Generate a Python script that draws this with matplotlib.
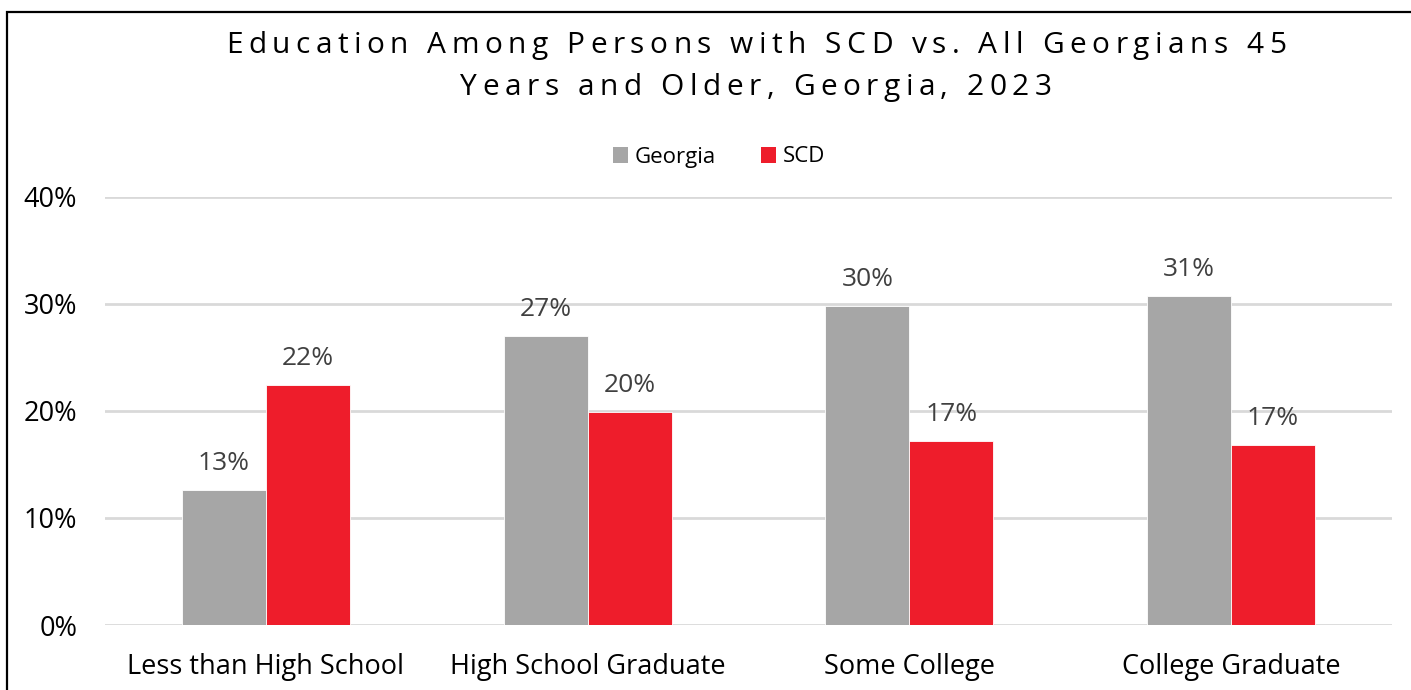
import matplotlib
matplotlib.use("Agg")
import matplotlib.pyplot as plt
from matplotlib.font_manager import FontProperties
from matplotlib.patches import Rectangle, Patch
from matplotlib.ticker import MultipleLocator, PercentFormatter
import numpy as np

# Education level categories and shares (percent of adults 45+)
categories = ["Less than High School", "High School Graduate", "Some College", "College Graduate"]
georgia = [12.6, 27.0, 29.8, 30.7]
scd = [22.4, 19.9, 17.2, 16.8]
series_names = ["Georgia", "SCD"]
title_lines = ["Education Among Persons with SCD vs. All Georgians 45",
               "Years and Older, Georgia, 2023"]

GRAY = "#a6a6a6"
RED = "#ee1d2b"
LABEL = "#404040"
GRID = "#d9d9d9"
FONT = "Open Sans"

W, H = 1411, 690
fig = plt.figure(figsize=(W / 100, H / 100), dpi=100)
ax = fig.add_axes([105 / W, 1 - 625 / H, (1392 - 105) / W, (625 - 196.5) / H])

x = np.arange(len(categories))
bw = 0.261
b1 = ax.bar(x - bw / 2, georgia, bw, color=GRAY, edgecolor="white", linewidth=0.6, zorder=3)
b2 = ax.bar(x + bw / 2, scd, bw, color=RED, edgecolor="white", linewidth=0.6, zorder=3)

for bars, vals in ((b1, georgia), (b2, scd)):
    for rect, v in zip(bars, vals):
        ax.annotate(f"{round(v):d}%", (rect.get_x() + rect.get_width() / 2, v),
                    xytext=(0, 14), textcoords="offset pixels",
                    ha="center", va="bottom", fontsize=19, color=LABEL,
                    family=FONT)

ax.set_xlim(-0.5, len(categories) - 0.5)
ax.set_ylim(0, 40)
ax.yaxis.set_major_locator(MultipleLocator(10))
ax.yaxis.set_major_formatter(PercentFormatter(decimals=0))
ax.set_xticks(x)
ax.set_xticklabels(categories)
ax.grid(axis="y", color=GRID, linewidth=2, zorder=0)
ax.set_axisbelow(True)
for s in ax.spines.values():
    s.set_visible(False)
ax.tick_params(axis="both", length=0, labelsize=19.5)
ax.tick_params(axis="y", pad=20)
ax.tick_params(axis="x", pad=20)
for lab in ax.get_xticklabels() + ax.get_yticklabels():
    lab.set_family(FONT)
    lab.set_color("black")

# Legend above the plot area
handles = [Patch(facecolor=GRAY), Patch(facecolor=RED)]
fig.legend(handles, series_names, loc="center", bbox_to_anchor=(719 / W, 1 - 157 / H),
           ncol=2, frameon=False, prop=FontProperties(family=FONT, size=16),
           handlelength=0.7, handleheight=0.7, handletextpad=0.3, columnspacing=2.0)

# Title with widened letter spacing, drawn character by character
renderer = fig.canvas.get_renderer()
tfp = FontProperties(family=FONT, size=21.5)
tracking = 5.5


def spaced_line(text, cx, baseline):
    widths = []
    for ch in text:
        if ch == " ":
            w, _, _ = renderer.get_text_width_height_descent("a a", tfp, ismath=False)
            w2, _, _ = renderer.get_text_width_height_descent("aa", tfp, ismath=False)
            widths.append(w - w2)
        else:
            w, _, _ = renderer.get_text_width_height_descent(ch, tfp, ismath=False)
            widths.append(w)
    total = sum(widths) + tracking * (len(text) - 1)
    pos = cx - total / 2
    for ch, w in zip(text, widths):
        fig.text(pos / W, 1 - baseline / H, ch, fontproperties=tfp,
                 ha="left", va="baseline", color="black")
        pos += w + tracking


spaced_line(title_lines[0], 756, 53)
spaced_line(title_lines[1], 756, 95)

# Outer chart frame
fig.patches.append(Rectangle((7 / W, -0.05), 1.2, 1 - 12 / H + 0.05, transform=fig.transFigure,
                             fill=False, edgecolor="black", linewidth=1.6, zorder=10))

fig.savefig("out.png", dpi=100)
